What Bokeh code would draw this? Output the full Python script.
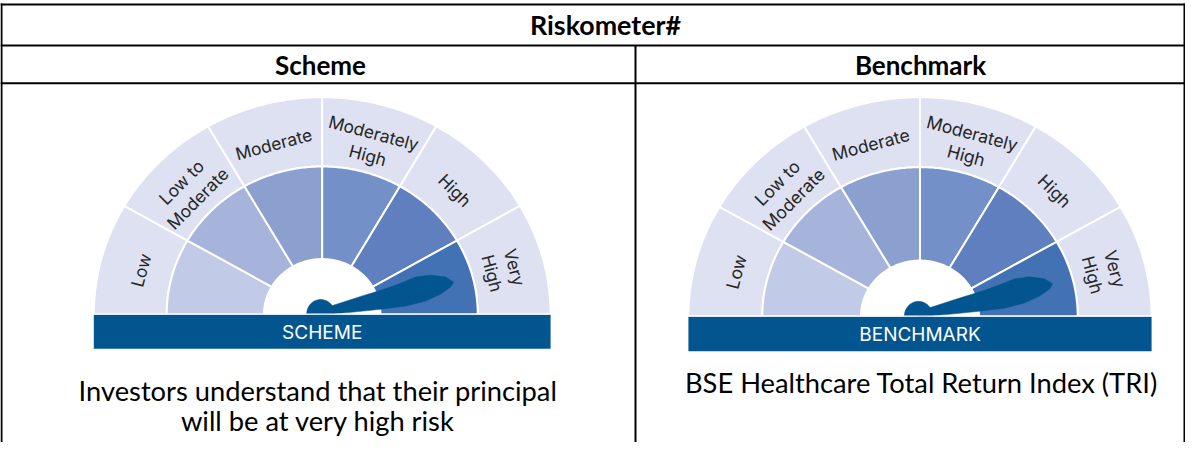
import numpy as np
from bokeh.plotting import figure
from bokeh.models import Range1d
from bokeh.core.properties import value
from bokeh.embed import file_html
from bokeh.resources import INLINE

# ---------------- data ----------------
table_title = "Riskometer#"
column_heads = ["Scheme", "Benchmark"]
risk_levels = ["Low", "Low to\nModerate", "Moderate", "Moderately\nHigh", "High", "Very\nHigh"]
gauge_names = ["SCHEME", "BENCHMARK"]
gauge_risk = ["Very\nHigh", "Very\nHigh"]
descriptions = ["Investors understand that their principal\nwill be at very high risk",
                "BSE Healthcare Total Return Index (TRI)"]

# ---------------- style ----------------
outer_band = "#dde1f1"
band_colors = ["#c1cae6", "#a6b4dc", "#8ca0d0", "#7490c8", "#5f7fbf", "#4272b4"]
dark_blue = "#03558f"
label_color = "#262626"

W, H = 1185, 442

p = figure(width=W, height=H, x_range=Range1d(0, W), y_range=Range1d(H, 0),
           output_backend="svg", toolbar_location=None, min_border=0,
           x_axis_location=None, y_axis_location=None)
p.xgrid.visible = False
p.ygrid.visible = False
p.outline_line_color = None
p.background_fill_color = "white"

# ---------------- table frame ----------------
hx0 = [0, 0, 0, 1, W - 1, 635]
hx1 = [W, W, W, 1, W - 1, 635]
hy0 = [4, 45, 82.7, 3, 3, 45]
hy1 = [4, 45, 82.7, H, H, H]
p.segment(x0=hx0, y0=hy0, x1=hx1, y1=hy1, line_color="black", line_width=2)

p.text(x=[605], y=[24], text=[table_title], text_font=value("Lato"), text_font_style="bold",
       text_font_size="26.8px", text_align="center", text_baseline="middle", text_color="black")
p.text(x=[320, 920], y=[64, 64], text=column_heads, text_font=value("Lato"), text_font_style="bold",
       text_font_size="26px", text_align="center", text_baseline="middle", text_color="black")

# descriptions
desc_cx = [317.5, 921]
desc_mid = [389.5, 382]
for cx, my, d in zip(desc_cx, desc_mid, descriptions):
    lines = d.split("\n")
    p.text(x=[cx] * len(lines), y=[my + 30.2 * i for i in range(len(lines))], text=lines,
           text_font=value("Lato"), text_font_size="27.3px", text_align="center",
           text_baseline="middle", text_color="black")

# ---------------- gauges ----------------
# geometry of each gauge: center x, base y, outer vertical radius, horizontal stretch
gauges = [(321.7, 314.0, 217.3, 1.051), (919.5, 316.0, 219.3, 1.056)]
R_COL, R_HOLE, BAR_H, R_LAB = 0.681, 0.255, 0.158, 0.822

needle_u = [0, 13.6, 42.9, 69, 84.8, 100.8, 115.9, 130, 136.7,
            132.7, 121.3, 105.2, 84.6, 59.5, 29.6, 9.75, 0]
needle_v = [7, 5.6, 8.1, 9.9, 11.9, 14.4, 13, 7.7, 1,
            -3.2, -7.8, -11.2, -11.6, -9, -5.2, -2.2, -3]


def arc(cx, cy, a, b, t0, t1, n=48):
    t = np.linspace(t0, t1, n)
    return cx + a * np.cos(t), cy - b * np.sin(t)


nlev = len(risk_levels)
for (cx, cy, B, S), name, risk in zip(gauges, gauge_names, gauge_risk):
    k = B / 217.3
    xs_o, ys_o, xs_c, ys_c = [], [], [], []
    for i in range(nlev):
        t0 = np.pi - i * np.pi / nlev
        t1 = np.pi - (i + 1) * np.pi / nlev
        ox, oy = arc(cx, cy, S * B, B, t0, t1)
        ix, iy = arc(cx, cy, S * B * R_COL, B * R_COL, t1, t0)
        xs_o.append(np.concatenate([ox, ix]).tolist()); ys_o.append(np.concatenate([oy, iy]).tolist())
        ox, oy = arc(cx, cy, S * B * R_COL, B * R_COL, t0, t1)
        ix, iy = arc(cx, cy, S * B * R_HOLE, B * R_HOLE, t1, t0)
        xs_c.append(np.concatenate([ox, ix]).tolist()); ys_c.append(np.concatenate([oy, iy]).tolist())
    p.patches(xs_o, ys_o, fill_color=outer_band, line_color="white", line_width=2)
    p.patches(xs_c, ys_c, fill_color=band_colors, line_color="white", line_width=2)

    # labels
    lx, ly, la = [], [], []
    for i in range(nlev):
        tm = np.pi - (i + 0.5) * np.pi / nlev
        lx.append(cx + S * B * R_LAB * np.cos(tm))
        ly.append(cy - B * R_LAB * np.sin(tm) + 2)
        la.append(tm - np.pi / 2)
    p.text(x=lx, y=ly, text=risk_levels, angle=la, text_font=value("Inter"),
           text_font_size=f"{17.3*k:.1f}px", text_align="center", text_baseline="middle",
           text_color=label_color, text_line_height=1.1)

    # needle
    idx = risk_levels.index(risk)
    tm = np.pi - (idx + 0.5) * np.pi / nlev
    phi = np.arctan2(np.sin(tm), S * np.cos(tm)) - np.radians(1.2)
    px0, py0 = cx - 1.5 * k, cy - 0.5
    u = np.array(needle_u) * k
    v = np.array(needle_v) * k
    nx = px0 + u * np.cos(phi) - v * np.sin(phi)
    ny = py0 - u * np.sin(phi) - v * np.cos(phi)
    p.patch(nx.tolist(), ny.tolist(), fill_color=dark_blue, line_color=dark_blue, line_width=0.5)
    dx, dy = arc(px0, py0, 14 * k, 14.5 * k, 0, np.pi)
    p.patch(dx.tolist(), dy.tolist(), fill_color=dark_blue, line_color=dark_blue, line_width=0.5)

    # base bar
    p.quad(left=[cx - S * B], right=[cx + S * B], top=[cy], bottom=[cy + BAR_H * B],
           fill_color=dark_blue, line_color=None)
    p.segment(x0=[cx - S * B], x1=[cx + S * B], y0=[cy - 0.3], y1=[cy - 0.3], line_color="white", line_width=1.2)
    p.text(x=[cx], y=[cy + BAR_H * B / 2 + 0.5], text=[name], text_font=value("Inter"),
           text_font_size="19px", text_align="center", text_baseline="middle",
           text_color="white")

open("out.html", "w").write(file_html(p, INLINE))
